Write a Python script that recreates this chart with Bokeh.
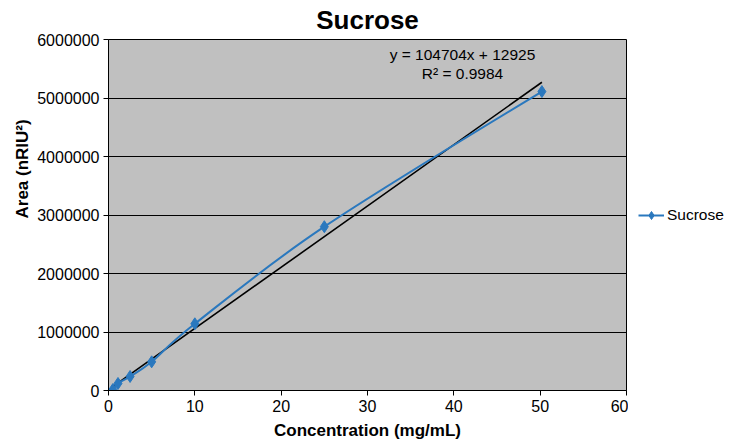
from bokeh.plotting import figure
from bokeh.layouts import row
from bokeh.models import (Range1d, NumeralTickFormatter, Legend, LegendItem,
                          Label, FixedTicker, ColumnDataSource, Title)
from bokeh.embed import file_html
from bokeh.resources import INLINE

# ---- data ----
concentration = [0.5, 1.1, 2.5, 5.0, 10.0, 25.0, 50.2]          # mg/mL
area = [15000, 120000, 240000, 490000, 1140000, 2800000, 5110000]  # nRIU^2
series_name = "Sucrose"
trend_slope = 104704
trend_intercept = 12925
r_squared = 0.9984
x_ticks = [0, 10, 20, 30, 40, 50, 60]
y_ticks = [0, 1000000, 2000000, 3000000, 4000000, 5000000, 6000000]

FONT = "Liberation Sans"
BLUE = "#2A78BE"
X_MAX, Y_MAX = 60, 6000000

p = figure(width=628, height=443, output_backend="svg", toolbar_location=None,
           x_range=Range1d(0, X_MAX), y_range=Range1d(0, Y_MAX),
           min_border_left=108, min_border_right=2, min_border_top=39,
           min_border_bottom=53, title="Sucrose")

p.background_fill_color = "#C0C0C0"
p.border_fill_color = "white"
p.outline_line_color = "black"
p.outline_line_width = 1

p.title.align = "center"
p.title.vertical_align = "middle"
p.title.text_font = FONT
p.title.text_font_size = "26px"
p.title.text_font_style = "bold"
p.title.text_color = "black"
p.title.standoff = 7

p.xgrid.visible = False
p.ygrid.grid_line_color = "black"
p.ygrid.grid_line_width = 1
p.ygrid.ticker = FixedTicker(ticks=y_ticks)

for ax in (p.xaxis[0], p.yaxis[0]):
    ax.axis_line_color = "black"
    ax.major_tick_line_color = "black"
    ax.minor_tick_line_color = None
    ax.major_tick_out = 5
    ax.major_tick_in = 0
    ax.major_label_text_font = FONT
    ax.major_label_text_font_size = "16px"
    ax.major_label_text_color = "black"
    ax.axis_label_text_font = FONT
    ax.axis_label_text_font_size = "17px"
    ax.axis_label_text_font_style = "bold"
    ax.axis_label_text_color = "black"

p.xaxis[0].ticker = FixedTicker(ticks=x_ticks)
p.yaxis[0].ticker = FixedTicker(ticks=y_ticks)
p.yaxis[0].formatter = NumeralTickFormatter(format="0")
p.xaxis[0].axis_label = "Concentration (mg/mL)"
p.xaxis[0].major_label_standoff = 4
p.yaxis[0].major_label_standoff = 4
p.xaxis[0].axis_label_standoff = 6

# y-axis title: starts part-way up the frame, as in the reference
p.add_layout(Title(text="Area (nRIU\u00b2)", align="left", offset=172,
                   standoff=6, text_font=FONT, text_font_size="17px",
                   text_font_style="bold", text_color="black"), "left")

# ---- linear trendline over the data's x span ----
tx = [min(concentration), max(concentration)]
ty = [trend_slope * v + trend_intercept for v in tx]
p.line(tx, ty, line_color="black", line_width=1.6)

# ---- smoothed series line: Catmull-Rom cubic Bezier, natural ends ----
n = len(concentration)
P = list(zip(concentration, area))
c_in, c_out = [None] * n, [None] * n
for i in range(1, n - 1):
    tx_, ty_ = P[i + 1][0] - P[i - 1][0], P[i + 1][1] - P[i - 1][1]
    c_in[i] = (P[i][0] - tx_ / 6, P[i][1] - ty_ / 6)
    c_out[i] = (P[i][0] + tx_ / 6, P[i][1] + ty_ / 6)
c_out[0] = ((P[0][0] + c_in[1][0]) / 2, (P[0][1] + c_in[1][1]) / 2)
c_in[n - 1] = ((P[n - 1][0] + c_out[n - 2][0]) / 2,
               (P[n - 1][1] + c_out[n - 2][1]) / 2)

bez_src = ColumnDataSource(dict(
    x0=[P[i][0] for i in range(n - 1)], y0=[P[i][1] for i in range(n - 1)],
    x1=[P[i + 1][0] for i in range(n - 1)], y1=[P[i + 1][1] for i in range(n - 1)],
    cx0=[c_out[i][0] for i in range(n - 1)], cy0=[c_out[i][1] for i in range(n - 1)],
    cx1=[c_in[i + 1][0] for i in range(n - 1)], cy1=[c_in[i + 1][1] for i in range(n - 1)]))
p.bezier(x0="x0", y0="y0", x1="x1", y1="y1", cx0="cx0", cy0="cy0",
         cx1="cx1", cy1="cy1", source=bez_src, line_color=BLUE, line_width=2)

p.scatter(concentration, area, marker="diamond", size=12,
          fill_color=BLUE, line_color=BLUE)

# ---- equation labels ----
p.add_layout(Label(x=41.0, y=5740000,
                   text="y = %dx + %d" % (trend_slope, trend_intercept),
                   text_align="center", text_baseline="middle",
                   text_font=FONT, text_font_size="15.5px", text_color="black"))
p.add_layout(Label(x=41.0, y=5420000, text="R\u00b2 = %.4f" % r_squared,
                   text_align="center", text_baseline="middle",
                   text_font=FONT, text_font_size="15.5px", text_color="black"))

# ---- legend panel to the right (same series, kept outside its view) ----
q = figure(width=118, height=443, output_backend="svg", toolbar_location=None,
           x_range=Range1d(-1e9, -1e9 + 1), y_range=Range1d(-1e9, -1e9 + 1),
           x_axis_type=None, y_axis_type=None,
           min_border_left=0, min_border_right=0, min_border_top=0,
           min_border_bottom=0)
q.outline_line_color = None
q.background_fill_color = "white"
q.border_fill_color = "white"
q.grid.visible = False
lg_line = q.line(concentration, area, line_color=BLUE, line_width=2)
lg_pts = q.scatter(concentration, area, marker="diamond", size=12,
                   fill_color=BLUE, line_color=BLUE)
legend = Legend(items=[LegendItem(label=series_name,
                                  renderers=[lg_line, lg_pts])],
                location=(10, 165), margin=0, padding=7,
                glyph_width=26, glyph_height=20, label_standoff=3,
                border_line_color=None, background_fill_alpha=0,
                label_text_font=FONT, label_text_font_size="15.5px",
                label_text_color="black")
q.add_layout(legend, "center")

layout = row(p, q)
open("out.html", "w").write(file_html(layout, INLINE))
